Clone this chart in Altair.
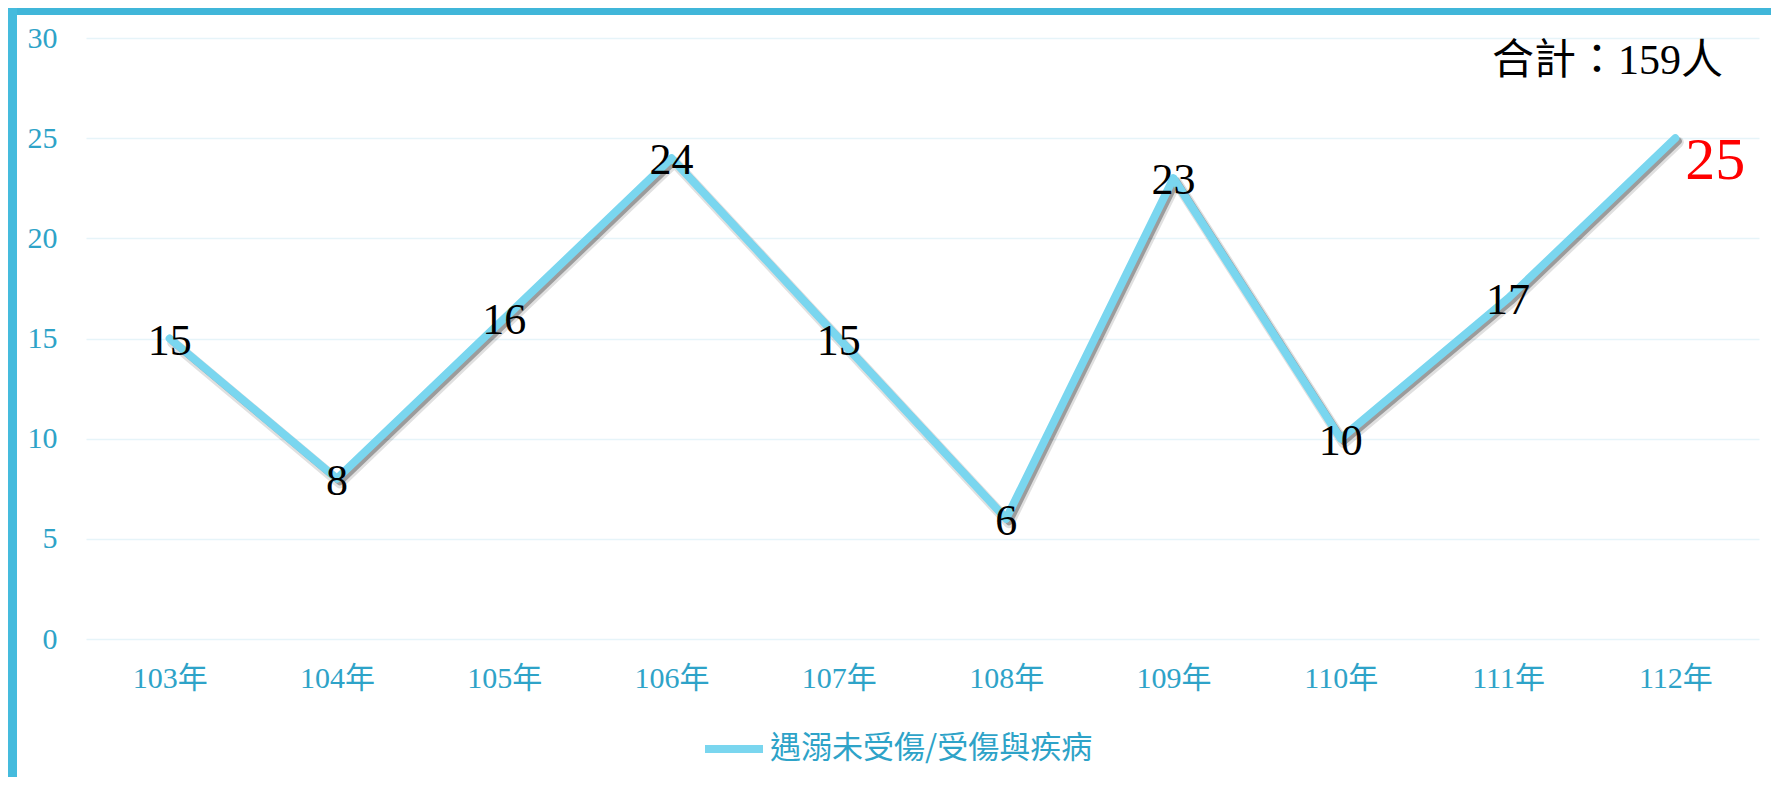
import altair as alt
import pandas as pd

years = ["103年", "104年", "105年", "106年", "107年", "108年", "109年", "110年", "111年", "112年"]
values = [15, 8, 16, 24, 15, 6, 23, 10, 17, 25]
series_name = "遇溺未受傷/受傷與疾病"
total_text = "合計：159人"
y_ticks = [0, 5, 10, 15, 20, 25, 30]

df = pd.DataFrame({"year": years, "value": values, "series": [series_name] * len(years)})

W, H = 1673, 601
PAD = {"left": 78, "top": 30, "right": 12, "bottom": 138}

SERIF = "Liberation Serif, Times New Roman, Noto Sans CJK TC"
BLUE_TXT = "#2ea3c8"
LINE_COL = "#7ad6ef"

x_enc = alt.X("year:N", sort=years, scale=alt.Scale(type="point", padding=0.5),
              axis=alt.Axis(title=None, labelAngle=0, ticks=False, tickSize=0, domain=False,
                            grid=False, labelFont=SERIF, labelFontSize=30,
                            labelColor=BLUE_TXT, labelPadding=24))
y_enc = alt.Y("value:Q", scale=alt.Scale(domain=[0, 30], nice=False, zero=True),
              axis=alt.Axis(title=None, values=y_ticks, ticks=False, tickSize=0, domain=False,
                            grid=True, gridColor="#e6f4f9", gridWidth=1.6,
                            labelFont=SERIF, labelFontSize=30, labelColor=BLUE_TXT,
                            labelPadding=29))

base = alt.Chart(df)

shadow1 = base.mark_line(color="#000000", opacity=0.12, strokeWidth=11, strokeCap="round",
                         strokeJoin="round", xOffset=3, yOffset=4).encode(x=x_enc, y=y_enc)
shadow2 = base.mark_line(color="#000000", opacity=0.30, strokeWidth=7, strokeCap="round",
                         strokeJoin="round", xOffset=3, yOffset=3).encode(x=x_enc, y=y_enc)

line = base.mark_line(strokeWidth=8, strokeCap="round", strokeJoin="round").encode(
    x=x_enc, y=y_enc,
    color=alt.Color("series:N", scale=alt.Scale(domain=[series_name], range=[LINE_COL]),
                    legend=alt.Legend(title=None, orient="none", direction="horizontal",
                                      legendX=615, legendY=678,
                                      symbolType="stroke", symbolStrokeWidth=8,
                                      symbolSize=3364, symbolOffset=0,
                                      labelFont="Noto Sans CJK TC", labelFontSize=31,
                                      labelColor=BLUE_TXT, labelOffset=3, padding=0,
                                      labelLimit=0,
                                      symbolStrokeColor=LINE_COL)),
)

labels = base.mark_text(font=SERIF, fontSize=44, color="#000000", align="center",
                        baseline="middle", dy=3).encode(
    x=alt.X("year:N", sort=years), y="value:Q", text="value:Q"
).transform_filter(alt.datum.year != years[-1])

last_label = base.mark_text(font=SERIF, fontSize=60, color="#ff0000", align="left",
                            baseline="middle", dx=10, dy=23).encode(
    x=alt.X("year:N", sort=years), y="value:Q", text="value:Q"
).transform_filter(alt.datum.year == years[-1])

frame_df = pd.DataFrame({"k": [0]})
top_band = alt.Chart(frame_df).mark_rect(color="#40b6d9").encode(
    x=alt.value(-PAD["left"]), x2=alt.value(W + PAD["right"]),
    y=alt.value(-PAD["top"]), y2=alt.value(-PAD["top"] + 7))
left_band = alt.Chart(frame_df).mark_rect(color="#45bbdd").encode(
    x=alt.value(-PAD["left"]), x2=alt.value(-PAD["left"] + 9),
    y=alt.value(-PAD["top"]), y2=alt.value(H + PAD["bottom"]))

total = alt.Chart(frame_df).mark_text(font=SERIF, fontSize=42, color="#000000",
                                      align="right", baseline="middle").encode(
    x=alt.value(1637), y=alt.value(23), text=alt.value(total_text))

chart = alt.layer(shadow1, shadow2, line, labels, last_label, total, top_band, left_band).properties(
    width=W, height=H, padding=PAD,
    autosize=alt.AutoSizeParams(type="none"),
    background="#ffffff",
).configure_view(stroke=None)

chart.save("out.html", embed_options={"renderer": "svg", "actions": False})
